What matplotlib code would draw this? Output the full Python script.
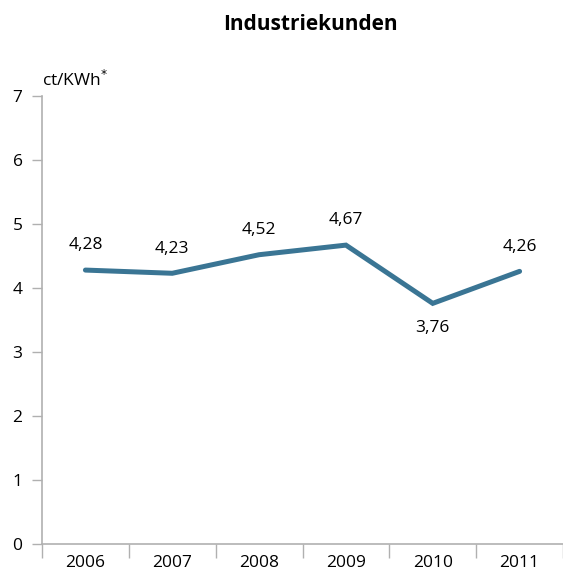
import matplotlib
matplotlib.use("Agg")
import matplotlib.pyplot as plt

plt.rcParams['font.family'] = ['Open Sans', 'DejaVu Sans']

# Strompreise Industriekunden in ct/KWh
jahre = ["2006", "2007", "2008", "2009", "2010", "2011"]
preise = [4.28, 4.23, 4.52, 4.67, 3.76, 4.26]
beschriftung = ["4,28", "4,23", "4,52", "4,67", "3,76", "4,26"]
y_ticks = [0, 1, 2, 3, 4, 5, 6, 7]

W, H = 563, 572
fig = plt.figure(figsize=(W / 100, H / 100), dpi=100)
ax = fig.add_axes([42 / W, 28 / H, 1 - 42 / W, 448 / H])

farbe = "#3a7594"
grau = "#b0b0b0"
fs = 12.5
x = list(range(len(jahre)))
ax.plot(x, preise, color=farbe, linewidth=3.6, solid_capstyle="round",
        solid_joinstyle="miter")

for i, (v, t) in enumerate(zip(preise, beschriftung)):
    if i == 4:
        ax.annotate(t, (i, v), xytext=(0, -12), textcoords="offset points",
                    ha="center", va="top", fontsize=fs)
    else:
        ax.annotate(t, (i, v), xytext=(0, 12), textcoords="offset points",
                    ha="center", va="bottom", fontsize=fs)

ax.set_xlim(-0.5, 5.5 - 4 / 87.5)
ax.set_ylim(0, 7)

ax.set_yticks(y_ticks)
ax.set_yticklabels([str(v) for v in y_ticks], fontsize=fs)
ax.tick_params(axis="y", direction="out", length=7, width=1, color=grau, pad=7)

# Striche zwischen den Jahren, Beschriftung mittig
ax.set_xticks([i - 0.5 for i in range(len(jahre) + 1)])
ax.set_xticklabels([])
ax.set_xticks(x, minor=True)
ax.set_xticklabels(jahre, minor=True, fontsize=fs)
ax.tick_params(axis="x", which="major", direction="out", length=10, width=1, color=grau)
ax.tick_params(axis="x", which="minor", length=0, pad=8)

for s in ["top", "right"]:
    ax.spines[s].set_visible(False)
for s in ["left", "bottom"]:
    ax.spines[s].set_color(grau)
    ax.spines[s].set_linewidth(1.2)

fig.text(310 / W, 1 - 24 / H, "Industriekunden", ha="center", va="center",
         fontsize=15, fontweight="bold")
fig.text(42 / W, 1 - 80 / H, r"ct/KWh$^{*}$", ha="left", va="center", fontsize=fs)

fig.savefig("out.png", dpi=100)
